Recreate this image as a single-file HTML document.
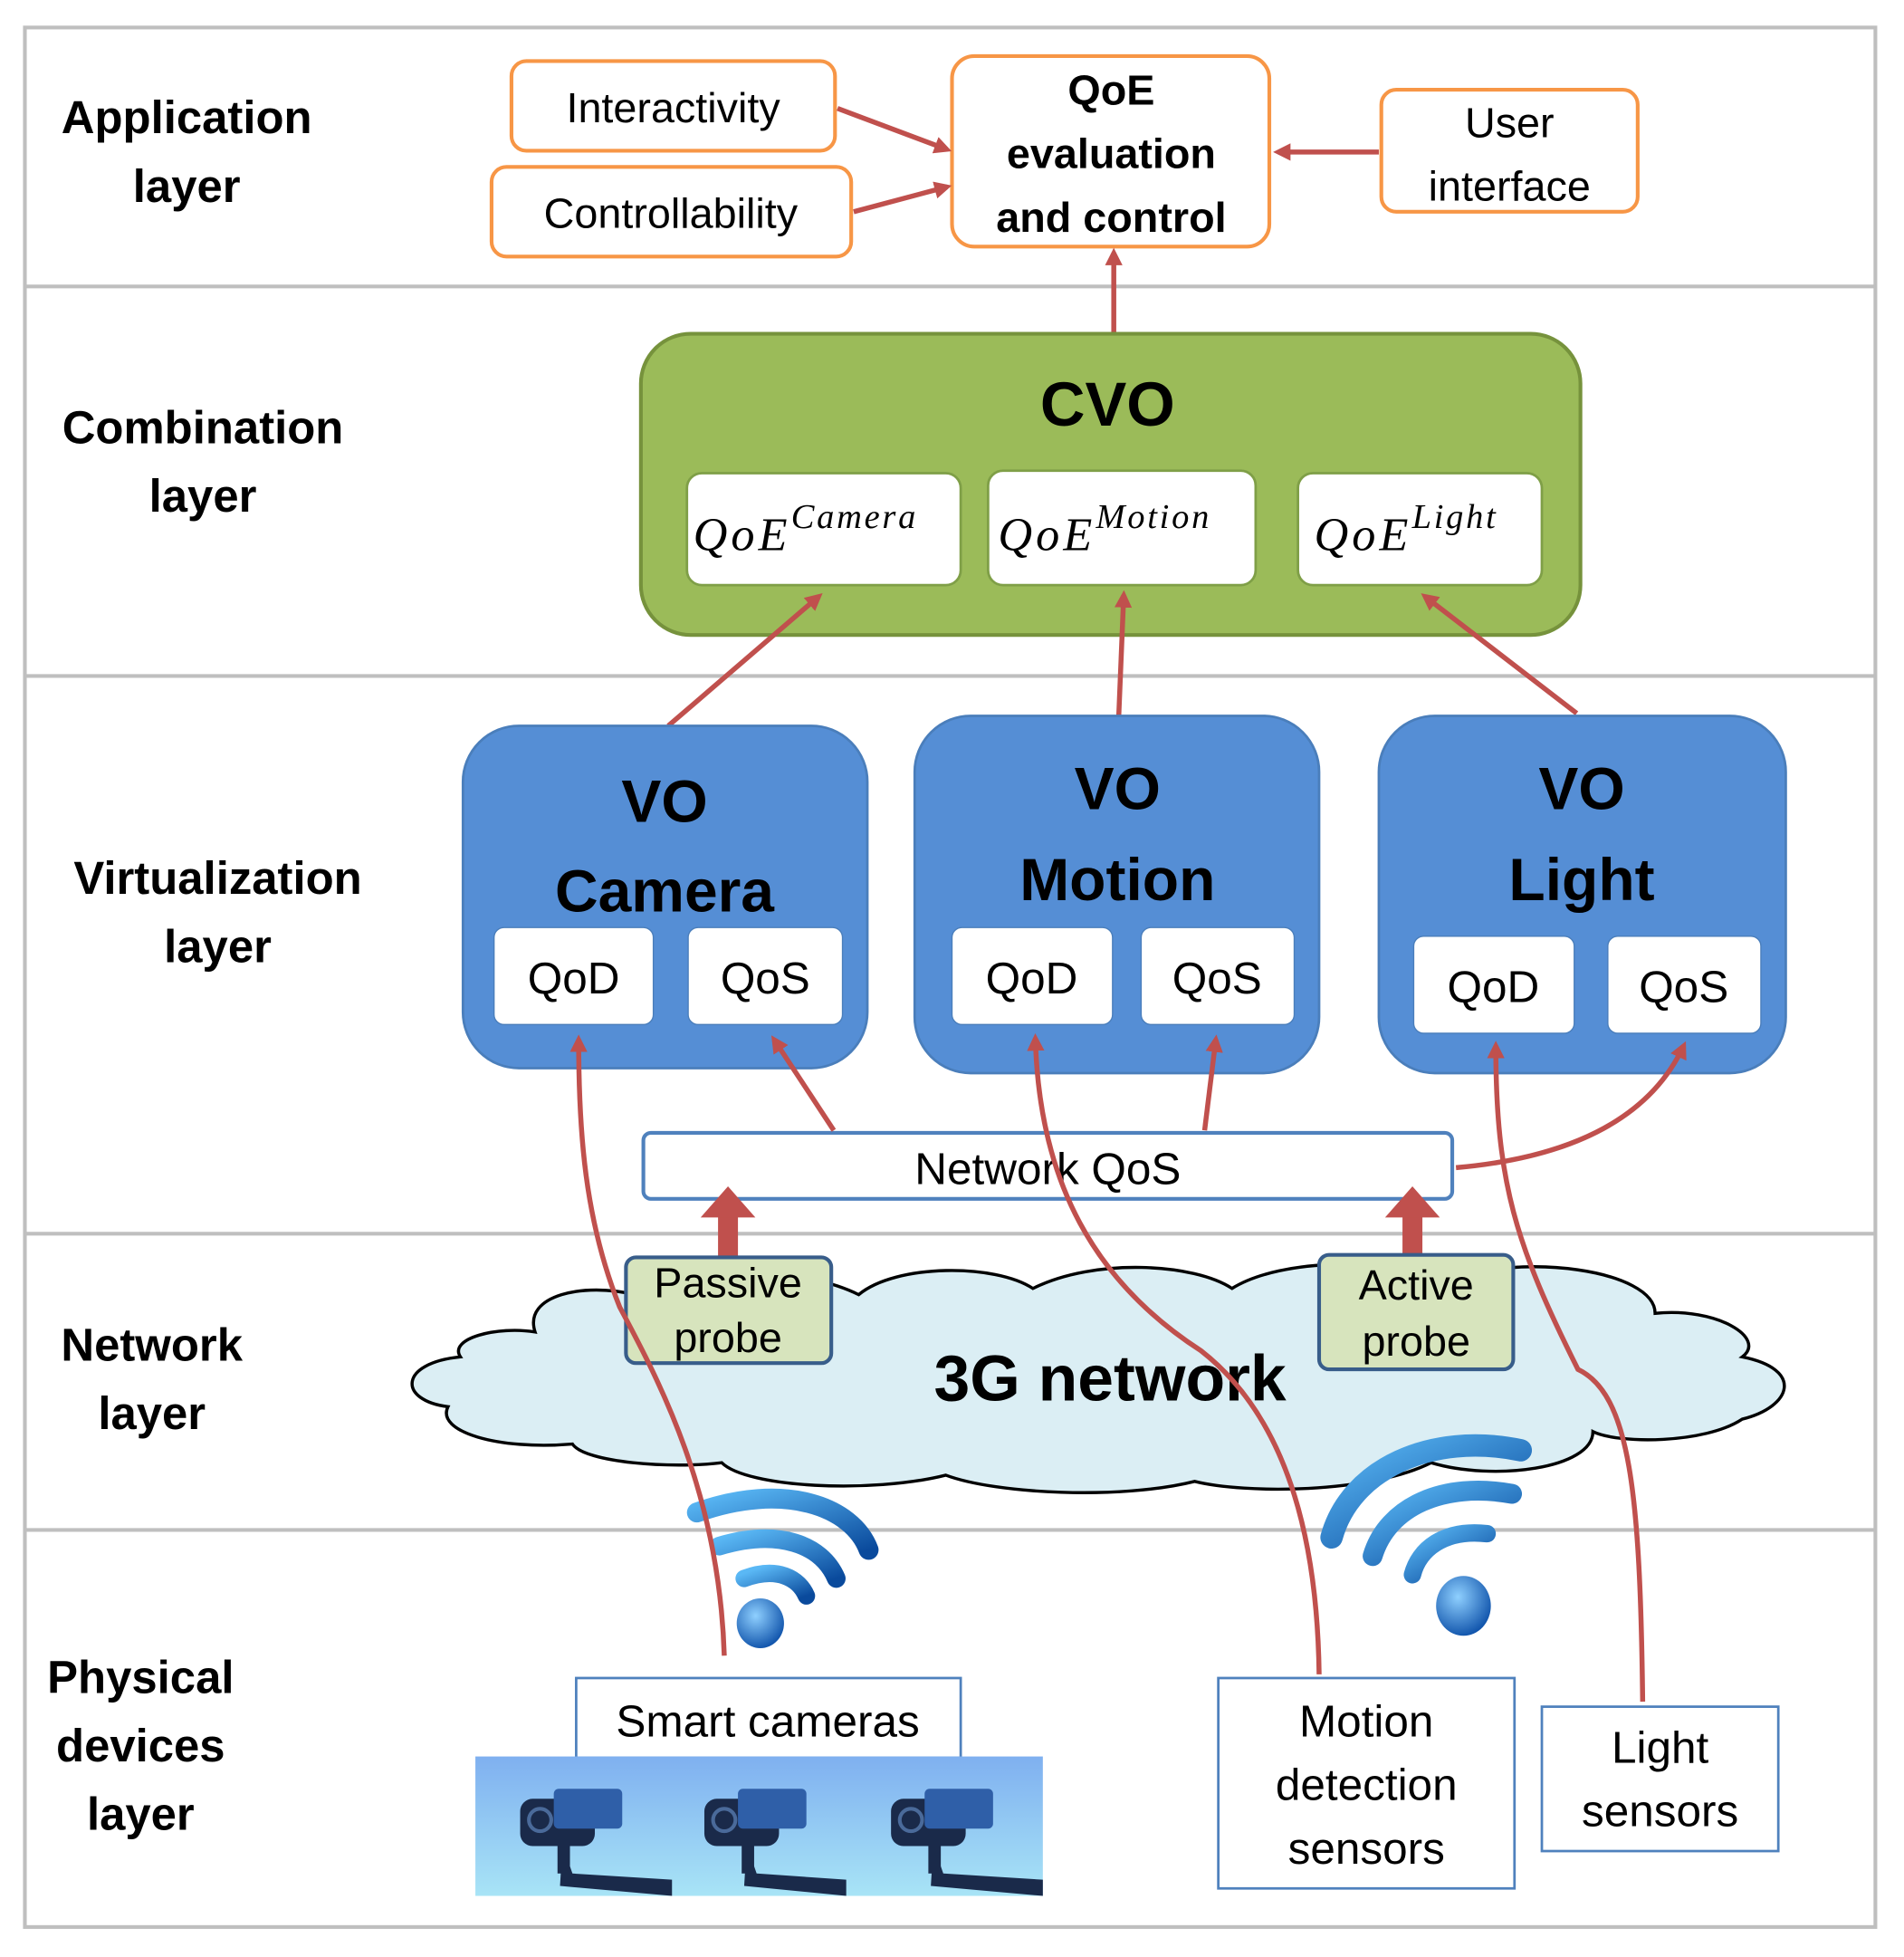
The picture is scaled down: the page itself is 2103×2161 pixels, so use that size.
<!DOCTYPE html>
<html><head><meta charset="utf-8"><style>
html,body{margin:0;padding:0;background:#fff;}
svg{display:block;}
text{font-family:"Liberation Sans",sans-serif;}
.lab{font-weight:bold;font-size:37px;text-anchor:middle;fill:#000;}
.ob{fill:#fff;stroke:#f79646;stroke-width:3;}
.ot{font-size:34px;text-anchor:middle;}
.qe{font-family:"Liberation Serif",serif;font-style:italic;font-size:38px;letter-spacing:3px;}
.qe tspan.s{font-size:28px;letter-spacing:2px;}
.vo{fill:#558ed5;stroke:#4a7ebb;stroke-width:2;}
.vt{font-weight:bold;font-size:48px;text-anchor:middle;}
.wt{font-size:36px;text-anchor:middle;}
.ar{stroke:#c0504d;stroke-width:4;fill:none;}
.bt{font-size:34px;text-anchor:middle;}
</style></head><body>
<svg width="2103" height="2161" viewBox="0 0 1530 1572" xmlns="http://www.w3.org/2000/svg">
<defs>
<marker id="ah2" markerWidth="14" markerHeight="14" refX="10" refY="7" orient="auto" markerUnits="userSpaceOnUse" viewBox="0 0 14 14">
<path d="M0,0 L14,7 L0,14 z" fill="#c0504d"/></marker>
<linearGradient id="sky" x1="0" y1="0" x2="0" y2="1">
<stop offset="0" stop-color="#7fb0f0"/><stop offset="1" stop-color="#a8e4f6"/></linearGradient>
<radialGradient id="dot" cx="0.4" cy="0.35" r="0.7"><stop offset="0" stop-color="#8fd0ff"/><stop offset="1" stop-color="#0b4fa8"/></radialGradient>
<linearGradient id="wg" x1="0" y1="0" x2="1" y2="1"><stop offset="0" stop-color="#5ab8f5"/><stop offset="1" stop-color="#0a4a9c"/></linearGradient>
</defs>
<rect x="20" y="22" width="1487" height="1526" fill="#fff" stroke="#bfbfbf" stroke-width="3"/>
<g stroke="#bfbfbf" stroke-width="3">
<line x1="20" y1="230" x2="1507" y2="230"/><line x1="20" y1="543" x2="1507" y2="543"/>
<line x1="20" y1="991" x2="1507" y2="991"/><line x1="20" y1="1229" x2="1507" y2="1229"/></g>
<text class="lab" x="150" y="107">Application</text><text class="lab" x="150" y="162">layer</text>
<text class="lab" x="163" y="356">Combination</text><text class="lab" x="163" y="411">layer</text>
<text class="lab" x="175" y="718">Virtualization</text><text class="lab" x="175" y="773">layer</text>
<text class="lab" x="122" y="1093">Network</text><text class="lab" x="122" y="1148">layer</text>
<text class="lab" x="113" y="1360">Physical</text><text class="lab" x="113" y="1415">devices</text><text class="lab" x="113" y="1470">layer</text>
<rect class="ob" x="411" y="49" width="260" height="72" rx="12"/><text class="ot" x="541" y="98">Interactivity</text>
<rect class="ob" x="395" y="134" width="289" height="72" rx="12"/><text class="ot" x="539" y="183">Controllability</text>
<rect class="ob" x="765" y="45" width="255" height="153" rx="18"/>
<text class="ot" x="893" y="84" font-weight="bold">QoE</text>
<text class="ot" x="893" y="135" font-weight="bold">evaluation</text>
<text class="ot" x="893" y="186" font-weight="bold">and control</text>
<rect class="ob" x="1110" y="72" width="206" height="98" rx="12"/>
<text class="ot" x="1213" y="110">User</text><text class="ot" x="1213" y="161">interface</text>
<line class="ar" x1="673" y1="87" x2="761" y2="120" marker-end="url(#ah2)"/>
<line class="ar" x1="686" y1="170" x2="761" y2="150" marker-end="url(#ah2)"/>
<line class="ar" x1="1108" y1="122" x2="1027" y2="122" stroke-width="5" marker-end="url(#ah2)"/>
<line class="ar" x1="895" y1="268" x2="895" y2="203" marker-end="url(#ah2)"/>
<rect x="515" y="268" width="755" height="242" rx="40" fill="#9bbb59" stroke="#76923c" stroke-width="3"/>
<text x="890" y="342" font-weight="bold" font-size="50" text-anchor="middle">CVO</text>
<g fill="#fff" stroke="#7f9f47" stroke-width="2">
<rect x="552" y="380" width="220" height="90" rx="12"/><rect x="794" y="378" width="215" height="92" rx="12"/><rect x="1043" y="380" width="196" height="90" rx="12"/></g>
<text class="qe" x="557" y="442">QoE<tspan class="s" dy="-18">Camera</tspan></text>
<text class="qe" x="802" y="442">QoE<tspan class="s" dy="-18">Motion</tspan></text>
<text class="qe" x="1056" y="442">QoE<tspan class="s" dy="-18">Light</tspan></text>
<line class="ar" x1="537" y1="583" x2="658" y2="479" marker-end="url(#ah2)"/>
<line class="ar" x1="899" y1="575" x2="903" y2="478" marker-end="url(#ah2)"/>
<line class="ar" x1="1267" y1="573" x2="1145" y2="479" marker-end="url(#ah2)"/>
<rect class="vo" x="372" y="583" width="325" height="275" rx="45"/>
<rect class="vo" x="735" y="575" width="325" height="287" rx="45"/>
<rect class="vo" x="1108" y="575" width="327" height="287" rx="45"/>
<text class="vt" x="534" y="660">VO</text><text class="vt" x="534" y="732">Camera</text>
<text class="vt" x="898" y="650">VO</text><text class="vt" x="898" y="723">Motion</text>
<text class="vt" x="1271" y="650">VO</text><text class="vt" x="1271" y="723">Light</text>
<g fill="#fff" stroke="#4a7ebb" stroke-width="1">
<rect x="397" y="745" width="128" height="78" rx="8"/><rect x="553" y="745" width="124" height="78" rx="8"/>
<rect x="765" y="745" width="129" height="78" rx="8"/><rect x="917" y="745" width="123" height="78" rx="8"/>
<rect x="1136" y="752" width="129" height="78" rx="8"/><rect x="1292" y="752" width="123" height="78" rx="8"/></g>
<text class="wt" x="461" y="798">QoD</text><text class="wt" x="615" y="798">QoS</text>
<text class="wt" x="829" y="798">QoD</text><text class="wt" x="978" y="798">QoS</text>
<text class="wt" x="1200" y="805">QoD</text><text class="wt" x="1353" y="805">QoS</text>
<rect x="517" y="910" width="650" height="53" rx="6" fill="#fff" stroke="#4f81bd" stroke-width="3"/>
<text class="wt" x="842" y="951">Network QoS</text>
<path d="M430,1070 C420,1040 470,1030 510,1040 C560,1010 650,1020 690,1040 C720,1015 800,1015 830,1035 C880,1010 960,1015 990,1035 C1030,1010 1120,1010 1160,1030 C1220,1005 1330,1020 1330,1055 C1380,1050 1420,1075 1400,1090 C1450,1100 1440,1130 1400,1140 C1370,1160 1300,1160 1280,1150 C1280,1180 1200,1190 1150,1175 C1100,1200 1000,1200 960,1190 C900,1205 800,1200 760,1185 C700,1200 600,1195 580,1175 C540,1180 470,1175 460,1160 C400,1165 350,1150 360,1130 C320,1125 320,1095 370,1090 C360,1075 400,1065 430,1070 Z" fill="#dbeef4" stroke="#000" stroke-width="2.5"/>
<text x="892" y="1125" font-weight="bold" font-size="52" text-anchor="middle">3G network</text>
<rect x="577" y="975" width="16" height="37" fill="#c0504d"/><path d="M563,978 L585,953 L607,978 Z" fill="#c0504d"/>
<rect x="1127" y="975" width="16" height="35" fill="#c0504d"/><path d="M1113,978 L1135,953 L1157,978 Z" fill="#c0504d"/>
<rect x="503" y="1010" width="165" height="85" rx="8" fill="#d7e4bd" stroke="#385d8a" stroke-width="3"/>
<text class="bt" x="585" y="1042" font-size="30">Passive</text><text class="bt" x="585" y="1086" font-size="30">probe</text>
<rect x="1060" y="1008" width="156" height="92" rx="8" fill="#d7e4bd" stroke="#385d8a" stroke-width="3"/>
<text class="bt" x="1138" y="1044" font-size="30">Active</text><text class="bt" x="1138" y="1089" font-size="30">probe</text>
<g fill="none" stroke="url(#wg)" stroke-linecap="round">
<path d="M560,1215 C630,1190 685,1210 698,1245" stroke-width="16"/>
<path d="M578,1242 C625,1228 660,1240 672,1268" stroke-width="15"/>
<path d="M598,1268 C625,1258 642,1268 648,1282" stroke-width="14"/>
<path d="M1222,1165 C1150,1150 1085,1180 1070,1235" stroke-width="18"/>
<path d="M1215,1200 C1160,1190 1115,1210 1103,1250" stroke-width="16"/>
<path d="M1195,1232 C1160,1228 1140,1245 1135,1265" stroke-width="14"/></g>
<ellipse cx="611" cy="1304" rx="19" ry="20" fill="url(#dot)"/>
<ellipse cx="1176" cy="1290" rx="22" ry="24" fill="url(#dot)"/>
<rect x="463" y="1348" width="309" height="64" fill="#fff" stroke="#4f81bd" stroke-width="2"/>
<text class="wt" x="617" y="1395">Smart cameras</text>
<rect x="382" y="1411" width="456" height="112" fill="url(#sky)"/>
<g fill="#1a2a4a">
<rect x="418" y="1445" width="60" height="38" rx="10"/><path d="M452,1482 L460,1505 L540,1510 L540,1523 L450,1515 Z"/><rect x="448" y="1480" width="10" height="25"/>
<rect x="566" y="1445" width="60" height="38" rx="10"/><path d="M600,1482 L608,1505 L680,1510 L680,1523 L598,1515 Z"/><rect x="596" y="1480" width="10" height="25"/>
<rect x="716" y="1445" width="60" height="38" rx="10"/><path d="M750,1482 L758,1505 L838,1510 L838,1523 L748,1515 Z"/><rect x="746" y="1480" width="10" height="25"/></g>
<g fill="#2f5fa8"><rect x="445" y="1437" width="55" height="32" rx="4"/><rect x="593" y="1437" width="55" height="32" rx="4"/><rect x="743" y="1437" width="55" height="32" rx="4"/></g>
<g fill="none" stroke="#4a6a9a" stroke-width="3"><circle cx="434" cy="1462" r="9"/><circle cx="582" cy="1462" r="9"/><circle cx="732" cy="1462" r="9"/></g>
<rect x="979" y="1348" width="238" height="169" fill="#fff" stroke="#4f81bd" stroke-width="2"/>
<text class="wt" x="1098" y="1395">Motion</text><text class="wt" x="1098" y="1446">detection</text><text class="wt" x="1098" y="1497">sensors</text>
<rect x="1239" y="1371" width="190" height="116" fill="#fff" stroke="#4f81bd" stroke-width="2"/>
<text class="wt" x="1334" y="1416">Light</text><text class="wt" x="1334" y="1467">sensors</text>
<path class="ar" d="M582,1330 C578,1200 530,1110 498,1050 C470,980 465,910 465,835" marker-end="url(#ah2)"/>
<path class="ar" d="M670,908 L622,835" marker-end="url(#ah2)"/>
<path class="ar" d="M968,908 L977,835" marker-end="url(#ah2)"/>
<path class="ar" d="M1170,938 C1260,930 1325,900 1353,840" marker-end="url(#ah2)"/>
<path class="ar" d="M1060,1345 C1058,1190 1010,1120 965,1085 C880,1030 835,950 832,834" marker-end="url(#ah2)"/>
<path class="ar" d="M1320,1367 C1318,1200 1310,1120 1268,1100 C1218,1000 1202,950 1202,840" marker-end="url(#ah2)"/>
</svg>
</body></html>
